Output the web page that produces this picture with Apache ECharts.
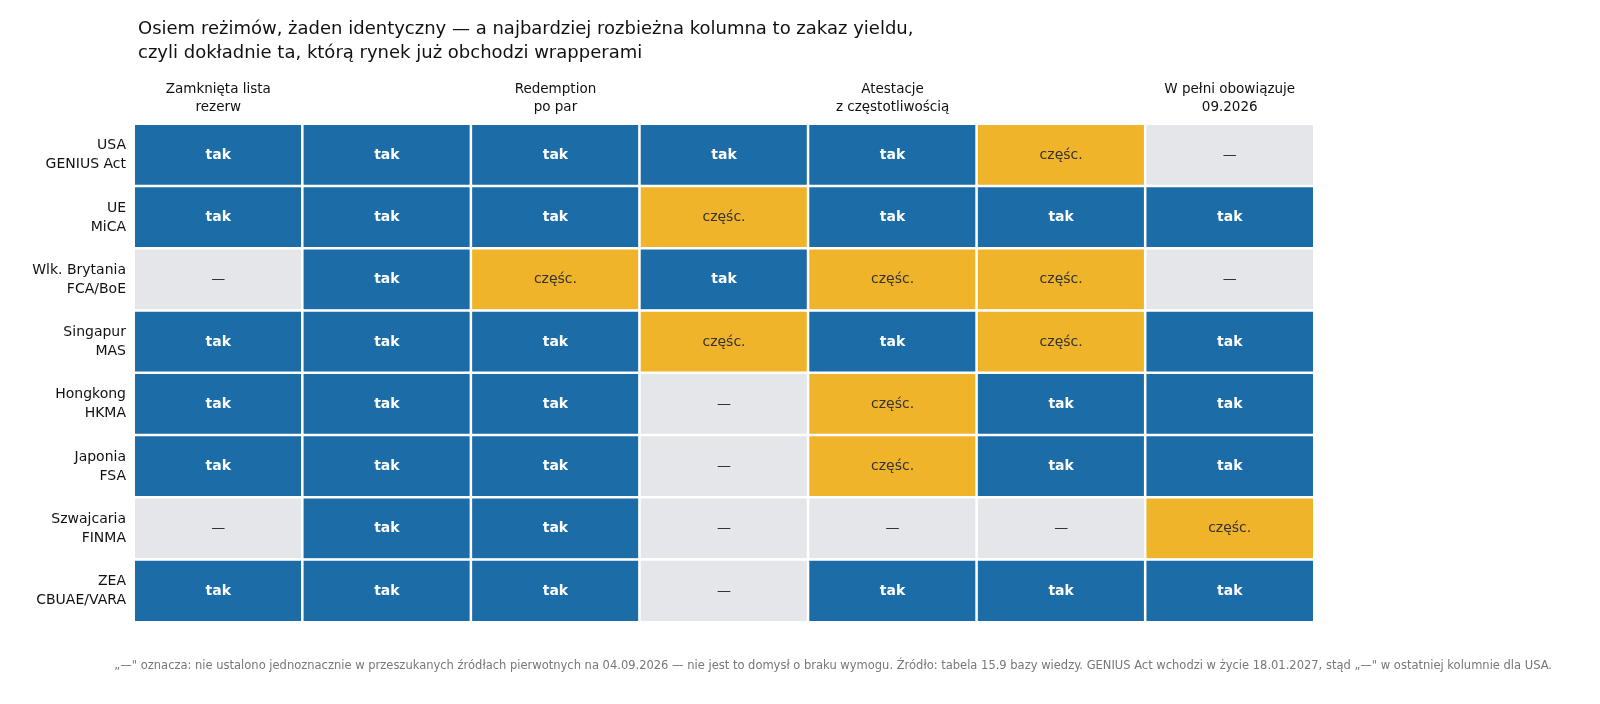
<!DOCTYPE html>
<html>
<head>
<meta charset="utf-8">
<script src="https://cdn.jsdelivr.net/npm/echarts@6/dist/echarts.min.js"></script>
<style>html,body{margin:0;padding:0;background:#fff}#chart{width:1600px;height:704px}</style>
</head>
<body>
<div id="chart"></div>
<script>
// kolumny i wiersze
var columns = ['Zamknięta lista\nrezerw', 'Segregacja\nrezerw', 'Redemption\npo par', 'Zakaz\nyieldu',
    'Atestacje\nz częstotliwością', 'Reżim dla\nzagranicznych', 'W pełni obowiązuje\n09.2026'];
var regimes = ['USA\nGENIUS Act', 'UE\nMiCA', 'Wlk. Brytania\nFCA/BoE', 'Singapur\nMAS',
    'Hongkong\nHKMA', 'Japonia\nFSA', 'Szwajcaria\nFINMA', 'ZEA\nCBUAE/VARA'];
// 2 = tak, 1 = częśc., 0 = —
var regimeStatus = [
    [2, 2, 2, 2, 2, 1, 0],
    [2, 2, 2, 1, 2, 2, 2],
    [0, 2, 1, 2, 1, 1, 0],
    [2, 2, 2, 1, 2, 1, 2],
    [2, 2, 2, 0, 1, 2, 2],
    [2, 2, 2, 0, 1, 2, 2],
    [0, 2, 2, 0, 0, 0, 1],
    [2, 2, 2, 0, 2, 2, 2]
];
var labels = ['—', 'częśc.', 'tak'];
var colors = ['#e5e6ea', '#f0b42b', '#1c6ca8'];

var data = [];
regimeStatus.forEach(function (row, r) {
    row.forEach(function (v, c) {
        var d = [c, r, v];
        data.push(v === 2 ? {value: d, label: {color: '#fff', fontWeight: 'bold'}} : {value: d});
    });
});

var chart = echarts.init(document.getElementById('chart'));
chart.setOption({
    textStyle: {fontFamily: 'DejaVu Sans'},
    title: {
        text: 'Osiem reżimów, żaden identyczny — a najbardziej rozbieżna kolumna to zakaz yieldu,\nczyli dokładnie ta, którą rynek już obchodzi wrapperami',
        left: 133, top: 12,
        textStyle: {fontSize: 18, fontWeight: 'normal', color: '#111', lineHeight: 24, fontFamily: 'DejaVu Sans'}
    },
    graphic: [{
        type: 'text', right: 48, top: 660,
        style: {
            text: '„—" oznacza: nie ustalono jednoznacznie w przeszukanych źródłach pierwotnych na 04.09.2026 — nie jest to domysł o braku wymogu. Źródło: tabela 15.9 bazy wiedzy. GENIUS Act wchodzi w życie 18.01.2027, stąd „—" w ostatniej kolumnie dla USA.',
            fontSize: 11.5, fill: '#777', fontFamily: 'DejaVu Sans'
        }
    }],
    grid: {left: 134, right: 286, top: 124, bottom: 82},
    xAxis: {
        type: 'category', data: columns, position: 'top',
        axisLine: {show: false}, axisTick: {show: false}, splitArea: {show: false},
        axisLabel: {fontSize: 13.5, color: '#111', lineHeight: 18, margin: 8}
    },
    yAxis: {
        type: 'category', data: regimes, inverse: true,
        axisLine: {show: false}, axisTick: {show: false},
        axisLabel: {fontSize: 14, color: '#111', lineHeight: 19, align: 'right', margin: 8}
    },
    visualMap: {
        show: false, type: 'piecewise', dimension: 2,
        pieces: [{value: 0, color: colors[0]}, {value: 1, color: colors[1]}, {value: 2, color: colors[2]}]
    },
    series: [{
        type: 'heatmap', data: data,
        itemStyle: {borderColor: '#fff', borderWidth: 2.5},
        label: {
            show: true,
            formatter: function (p) { return labels[p.value[2]]; },
            fontSize: 14,
            color: '#333'
        }
    }]
});
</script>
</body>
</html>
